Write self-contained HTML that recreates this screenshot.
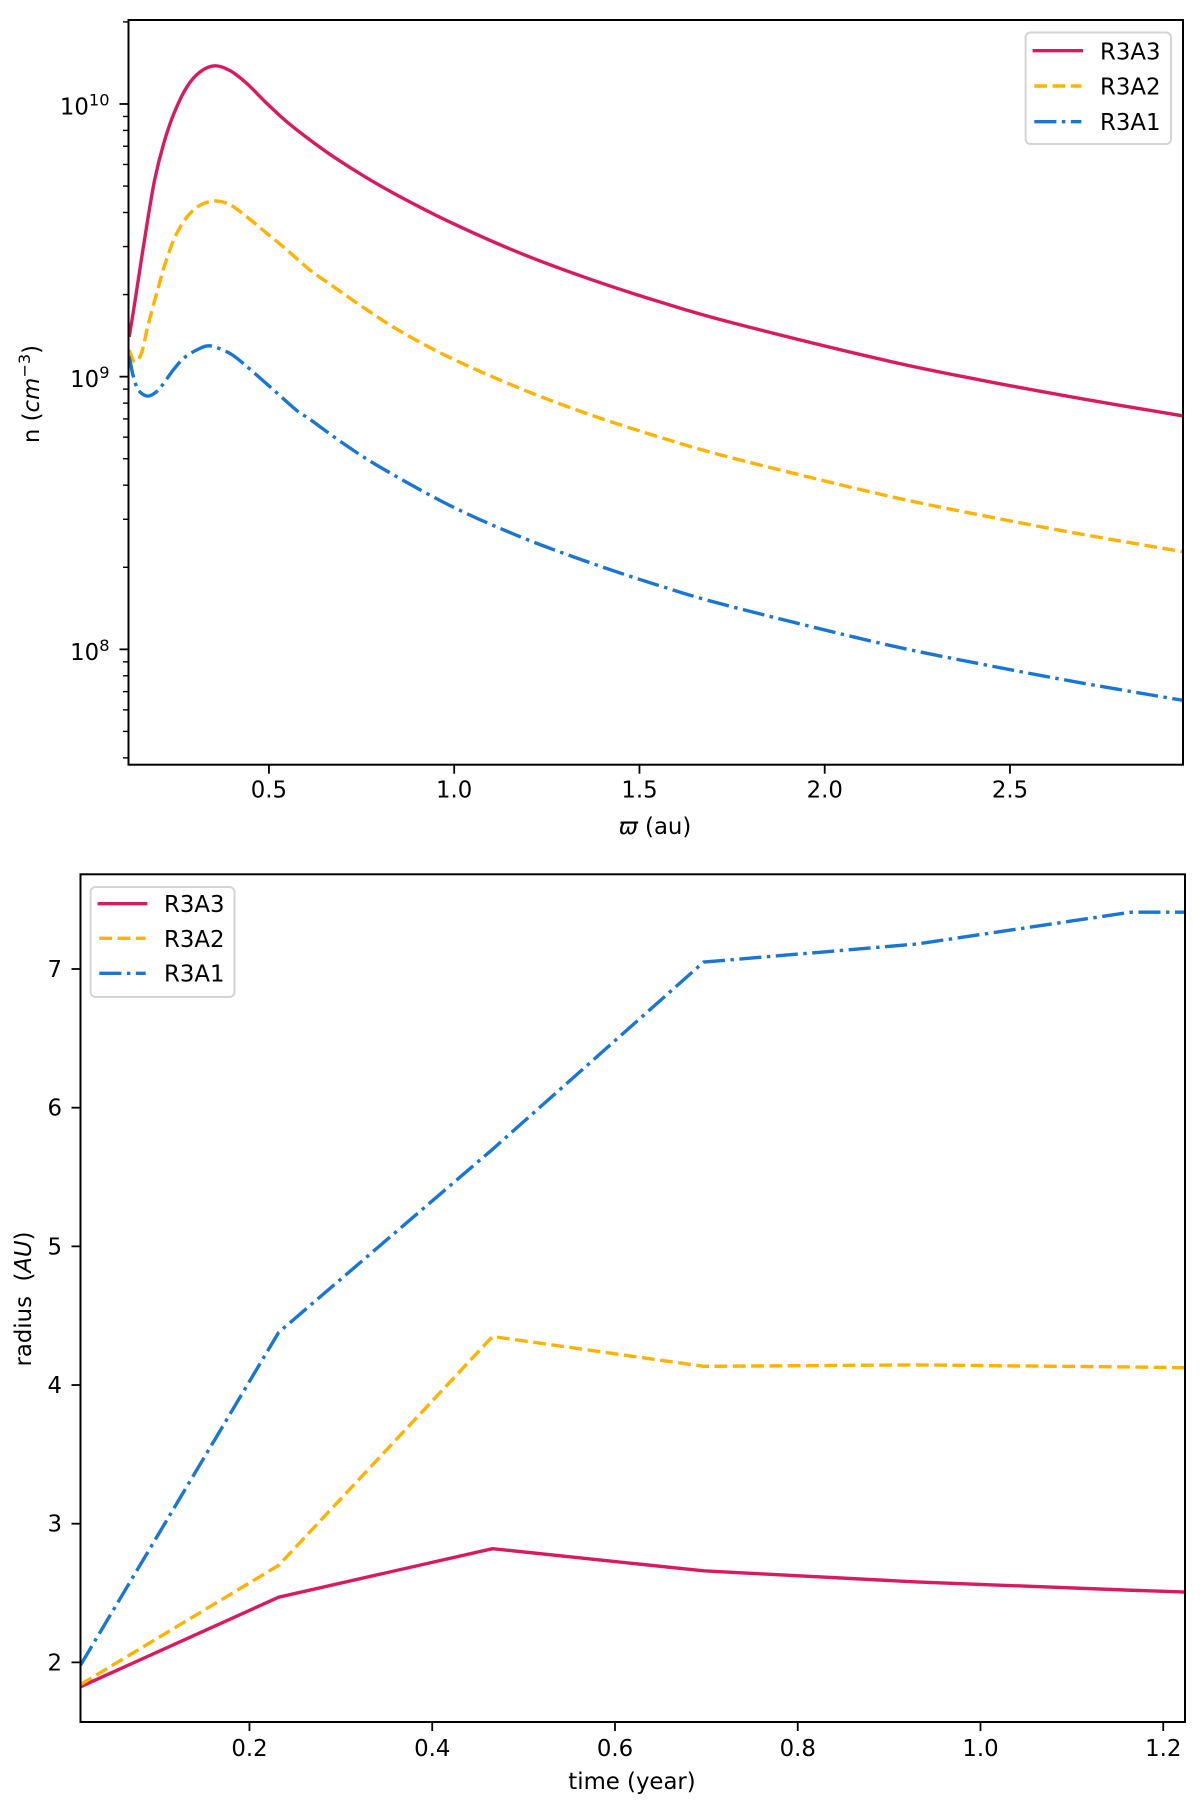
<!DOCTYPE html>
<html lang="en">
<head>
<meta charset="utf-8">
<title>R3A density and radius charts</title>
<style>
html,body{margin:0;padding:0;background:#fff;}
body{width:1200px;height:1804px;overflow:hidden;}
svg{display:block;filter:blur(0.35px);}
text{font-family:"DejaVu Sans","Liberation Sans",sans-serif;font-size:22.8px;fill:#000;}
</style>
</head>
<body>
<svg id="figure" width="1200" height="1804" viewBox="0 0 1200 1804" xmlns="http://www.w3.org/2000/svg">
  <defs>
    <clipPath id="clip-top"><rect x="128.5" y="20" width="1054.5" height="744.7"/></clipPath>
    <clipPath id="clip-bottom"><rect x="80.5" y="874.3" width="1104.5" height="847.7"/></clipPath>
  </defs>
  <rect width="1200" height="1804" fill="#fff"/>

  <g id="top-chart">
    <g id="top-series" clip-path="url(#clip-top)" fill="none"></g>
    <g id="top-ticks"></g>
    <rect x="128.5" y="20" width="1054.5" height="744.7" fill="none" stroke="#000" stroke-width="2"/>
    <text x="655" y="834" text-anchor="middle"><tspan font-style="italic">ϖ</tspan> (au)</text>
    <text transform="translate(39,394) rotate(-90)" text-anchor="middle">n (<tspan font-style="italic">cm</tspan><tspan font-size="16.2" dy="-9">−3</tspan><tspan dy="9">)</tspan></text>
    <g>
      <rect x="1025.6" y="32.5" width="145.4" height="111.5" rx="5" fill="#fff" stroke="#d4d4d4" stroke-width="2"/>
      <line x1="1034.3" y1="50.7" x2="1081.4" y2="50.7" stroke="#D81B60" stroke-width="3.4" stroke-linecap="square"/>
      <text x="1100" y="59.5">R3A3</text>
      <line x1="1034.3" y1="86" x2="1081.4" y2="86" stroke="#FFB300" stroke-width="3.4" stroke-dasharray="12.8 5.5"/>
      <text x="1100" y="94.5">R3A2</text>
      <line x1="1034.3" y1="121.7" x2="1081.4" y2="121.7" stroke="#1976D2" stroke-width="3.4" stroke-dasharray="22.1 5.5 3.45 5.5"/>
      <text x="1100" y="130">R3A1</text>
    </g>
  </g>

  <g id="bottom-chart">
    <g id="bottom-series" clip-path="url(#clip-bottom)" fill="none"></g>
    <g id="bottom-ticks"></g>
    <rect x="80.5" y="874.3" width="1104.5" height="847.7" fill="none" stroke="#000" stroke-width="2"/>
    <text x="632" y="1789" text-anchor="middle">time (year)</text>
    <text transform="translate(31,1299) rotate(-90)" text-anchor="middle" xml:space="preserve">radius  (<tspan font-style="italic">AU</tspan>)</text>
    <g>
      <rect x="90.6" y="887" width="143.9" height="110" rx="5" fill="#fff" stroke="#d4d4d4" stroke-width="2"/>
      <line x1="99.3" y1="903.7" x2="145.7" y2="903.7" stroke="#D81B60" stroke-width="3.4" stroke-linecap="square"/>
      <text x="164" y="912">R3A3</text>
      <line x1="99.3" y1="938.3" x2="145.7" y2="938.3" stroke="#FFB300" stroke-width="3.4" stroke-dasharray="12.8 5.5"/>
      <text x="164" y="947">R3A2</text>
      <line x1="99.3" y1="973.3" x2="145.7" y2="973.3" stroke="#1976D2" stroke-width="3.4" stroke-dasharray="22.1 5.5 3.45 5.5"/>
      <text x="164" y="981.7">R3A1</text>
    </g>
  </g>
</svg>

<script>
// Density chart data (top)
const densityXTicks = [0.5, 1.0, 1.5, 2.0, 2.5];
const densityXTickLabels = ["0.5", "1.0", "1.5", "2.0", "2.5"];
const densityYExponents = [8, 9, 10];

const r3a3Radius = [0.123,0.138,0.156,0.174,0.192,0.215,0.242,0.278,0.314,0.354,0.395,0.44,0.494,0.548,0.611,0.674,0.764,0.854,0.9885,1.1775,1.366,1.555,1.744,2.149,2.419,2.689,2.967];
const r3a3Density = [1.40e9,1.87e9,2.70e9,3.85e9,5.30e9,7.08e9,9.11e9,1.151e10,1.31e10,1.38e10,1.325e10,1.19e10,1.006e10,8.61e9,7.38e9,6.41e9,5.36e9,4.57e9,3.69e9,2.84e9,2.28e9,1.88e9,1.585e9,1.16e9,9.73e8,8.32e8,7.18e8];

const r3a2Radius = [0.123,0.138,0.156,0.174,0.197,0.219,0.246,0.278,0.314,0.354,0.395,0.44,0.494,0.548,0.611,0.674,0.764,0.854,0.9885,1.1775,1.366,1.555,1.744,2.149,2.419,2.689,2.967];
const r3a2Density = [1.25e9,1.135e9,1.22e9,1.55e9,2.02e9,2.57e9,3.24e9,3.84e9,4.25e9,4.41e9,4.27e9,3.86e9,3.36e9,2.92e9,2.46e9,2.14e9,1.76e9,1.47e9,1.175e9,9.06e8,7.26e8,6.0e8,5.06e8,3.71e8,3.11e8,2.65e8,2.28e8];

const r3a1Radius = [0.121,0.125,0.132,0.143,0.156,0.174,0.192,0.21,0.244,0.273,0.314,0.341,0.375,0.413,0.503,0.575,0.611,0.70,0.80,0.9885,1.1775,1.366,1.555,1.744,2.149,2.419,2.689,2.967];
const r3a1Density = [1.19e9,1.15e9,1.028e9,9.18e8,8.69e8,8.49e8,8.71e8,9.23e8,1.067e9,1.178e9,1.27e9,1.297e9,1.253e9,1.17e9,9.18e8,7.52e8,6.97e8,5.7e8,4.66e8,3.37e8,2.59e8,2.08e8,1.71e8,1.44e8,1.054e8,8.85e7,7.55e7,6.5e7];

// Radius chart data (bottom)
const radiusXTicks = [0.2, 0.4, 0.6, 0.8, 1.0, 1.2];
const radiusXTickLabels = ["0.2", "0.4", "0.6", "0.8", "1.0", "1.2"];
const radiusYTicks = [2, 3, 4, 5, 6, 7];
const timeYears = [0.0151, 0.232, 0.466, 0.697, 0.93, 1.165, 1.224];
const r3a3Size = [1.824, 2.47, 2.82, 2.66, 2.58, 2.52, 2.507];
const r3a2Size = [1.84, 2.70, 4.35, 4.135, 4.145, 4.13, 4.125];
const r3a1Size = [1.98, 4.38, 5.70, 7.05, 7.18, 7.41, 7.41];

const SVGNS = "http://www.w3.org/2000/svg";
const RED = "#D81B60", AMBER = "#FFB300", BLUE = "#1976D2";
const DASHED = "12.8 5.5", DASHDOT = "22.1 5.5 3.45 5.5";

const topBox = { l: 128.5, r: 1183, t: 20, b: 764.7 };
const botBox = { l: 80.5, r: 1185, t: 874.3, b: 1722 };

function topX(v) { return topBox.l + (v - 0.121) / (2.967 - 0.121) * (topBox.r - topBox.l); }
function topY(v) { return topBox.b - (Math.log10(v) - 7.577) / (10.308 - 7.577) * (topBox.b - topBox.t); }
function botX(v) { return botBox.l + (v - 0.0151) / (1.2238 - 0.0151) * (botBox.r - botBox.l); }
function botY(v) { return botBox.b - (v - 1.57) / (7.683 - 1.57) * (botBox.b - botBox.t); }

function makeLine(x1, y1, x2, y2, width) {
  const el = document.createElementNS(SVGNS, "line");
  el.setAttribute("x1", x1);
  el.setAttribute("y1", y1);
  el.setAttribute("x2", x2);
  el.setAttribute("y2", y2);
  el.setAttribute("stroke", "#000");
  el.setAttribute("stroke-width", width);
  return el;
}
function makeText(x, y, anchor, str) {
  const el = document.createElementNS(SVGNS, "text");
  el.setAttribute("x", x);
  el.setAttribute("y", y);
  el.setAttribute("text-anchor", anchor);
  el.textContent = str;
  return el;
}
function smoothPath(pts) {
  let d = "M" + pts[0][0].toFixed(2) + " " + pts[0][1].toFixed(2);
  for (let i = 0; i < pts.length - 1; i++) {
    const p0 = pts[Math.max(i - 1, 0)], p1 = pts[i], p2 = pts[i + 1], p3 = pts[Math.min(i + 2, pts.length - 1)];
    const c1x = p1[0] + (p2[0] - p0[0]) / 6, c1y = p1[1] + (p2[1] - p0[1]) / 6;
    const c2x = p2[0] - (p3[0] - p1[0]) / 6, c2y = p2[1] - (p3[1] - p1[1]) / 6;
    d += "C" + c1x.toFixed(2) + " " + c1y.toFixed(2) + " " + c2x.toFixed(2) + " " + c2y.toFixed(2) + " " + p2[0].toFixed(2) + " " + p2[1].toFixed(2);
  }
  return d;
}
function polyPath(pts) {
  return "M" + pts.map(p => p[0].toFixed(2) + " " + p[1].toFixed(2)).join("L");
}
function makeSeries(d, color, dash) {
  const el = document.createElementNS(SVGNS, "path");
  el.setAttribute("d", d);
  el.setAttribute("fill", "none");
  el.setAttribute("stroke", color);
  el.setAttribute("stroke-width", "3.4");
  el.setAttribute("stroke-linejoin", "round");
  if (dash) el.setAttribute("stroke-dasharray", dash);
  return el;
}

// --- Top chart series ---
const topSeries = document.getElementById("top-series");
const topA3 = makeSeries(smoothPath(r3a3Radius.map((x, i) => [topX(x), topY(r3a3Density[i])])), RED, null);


topSeries.appendChild(topA3);
const topA2 = makeSeries(smoothPath(r3a2Radius.map((x, i) => [topX(x), topY(r3a2Density[i])])), AMBER, DASHED);


topSeries.appendChild(topA2);
const topA1 = makeSeries(smoothPath(r3a1Radius.map((x, i) => [topX(x), topY(r3a1Density[i])])), BLUE, DASHDOT);


topSeries.appendChild(topA1);

// --- Top chart ticks ---
const topTicks = document.getElementById("top-ticks");
densityXTicks.forEach((v, i) => {
  const t = makeLine(topX(v), topBox.b, topX(v), topBox.b + 9, 1.8);
  
  
  topTicks.appendChild(t);
  const lab = makeText(topX(v), 797.3, "middle", densityXTickLabels[i]);
  
  
  topTicks.appendChild(lab);
});
densityYExponents.forEach(e => {
  const y = topY(Math.pow(10, e));
  const t = makeLine(topBox.l - 9, y, topBox.l, y, 1.8);
  
  
  topTicks.appendChild(t);
  const lab = makeText(109.5, y + 10.5, "end", "10");
  
  
  const sup = document.createElementNS(SVGNS, "tspan");
  sup.setAttribute("font-size", "16.2");
  sup.setAttribute("dy", "-9");
  sup.textContent = String(e);
  lab.appendChild(sup);
  topTicks.appendChild(lab);
});
[7, 8, 9, 10].forEach(e => {
  [2, 3, 4, 5, 6, 7, 8, 9].forEach(m => {
    const v = m * Math.pow(10, e);
    const y = topY(v);
    if (y < topBox.t - 0.5 || y > topBox.b + 0.5) return;
    const t = makeLine(topBox.l - 5.5, y, topBox.l, y, 1.4);
    
    
    topTicks.appendChild(t);
  });
});

// --- Bottom chart series ---
const botSeries = document.getElementById("bottom-series");
const botA3 = makeSeries(polyPath(timeYears.map((x, i) => [botX(x), botY(r3a3Size[i])])), RED, null);


botSeries.appendChild(botA3);
const botA2 = makeSeries(polyPath(timeYears.map((x, i) => [botX(x), botY(r3a2Size[i])])), AMBER, DASHED);


botSeries.appendChild(botA2);
const botA1 = makeSeries(polyPath(timeYears.map((x, i) => [botX(x), botY(r3a1Size[i])])), BLUE, DASHDOT);


botSeries.appendChild(botA1);

// --- Bottom chart ticks ---
const botTicks = document.getElementById("bottom-ticks");
radiusXTicks.forEach((v, i) => {
  const t = makeLine(botX(v), botBox.b, botX(v), botBox.b + 9, 1.8);
  
  
  botTicks.appendChild(t);
  const lab = makeText(botX(v), 1756, "middle", radiusXTickLabels[i]);
  
  
  botTicks.appendChild(lab);
});
radiusYTicks.forEach(v => {
  const y = botY(v);
  const t = makeLine(botBox.l - 9, y, botBox.l, y, 1.8);
  
  
  botTicks.appendChild(t);
  const lab = makeText(62, y + 8, "end", String(v));
  
  
  botTicks.appendChild(lab);
});
</script>
</body>
</html>
